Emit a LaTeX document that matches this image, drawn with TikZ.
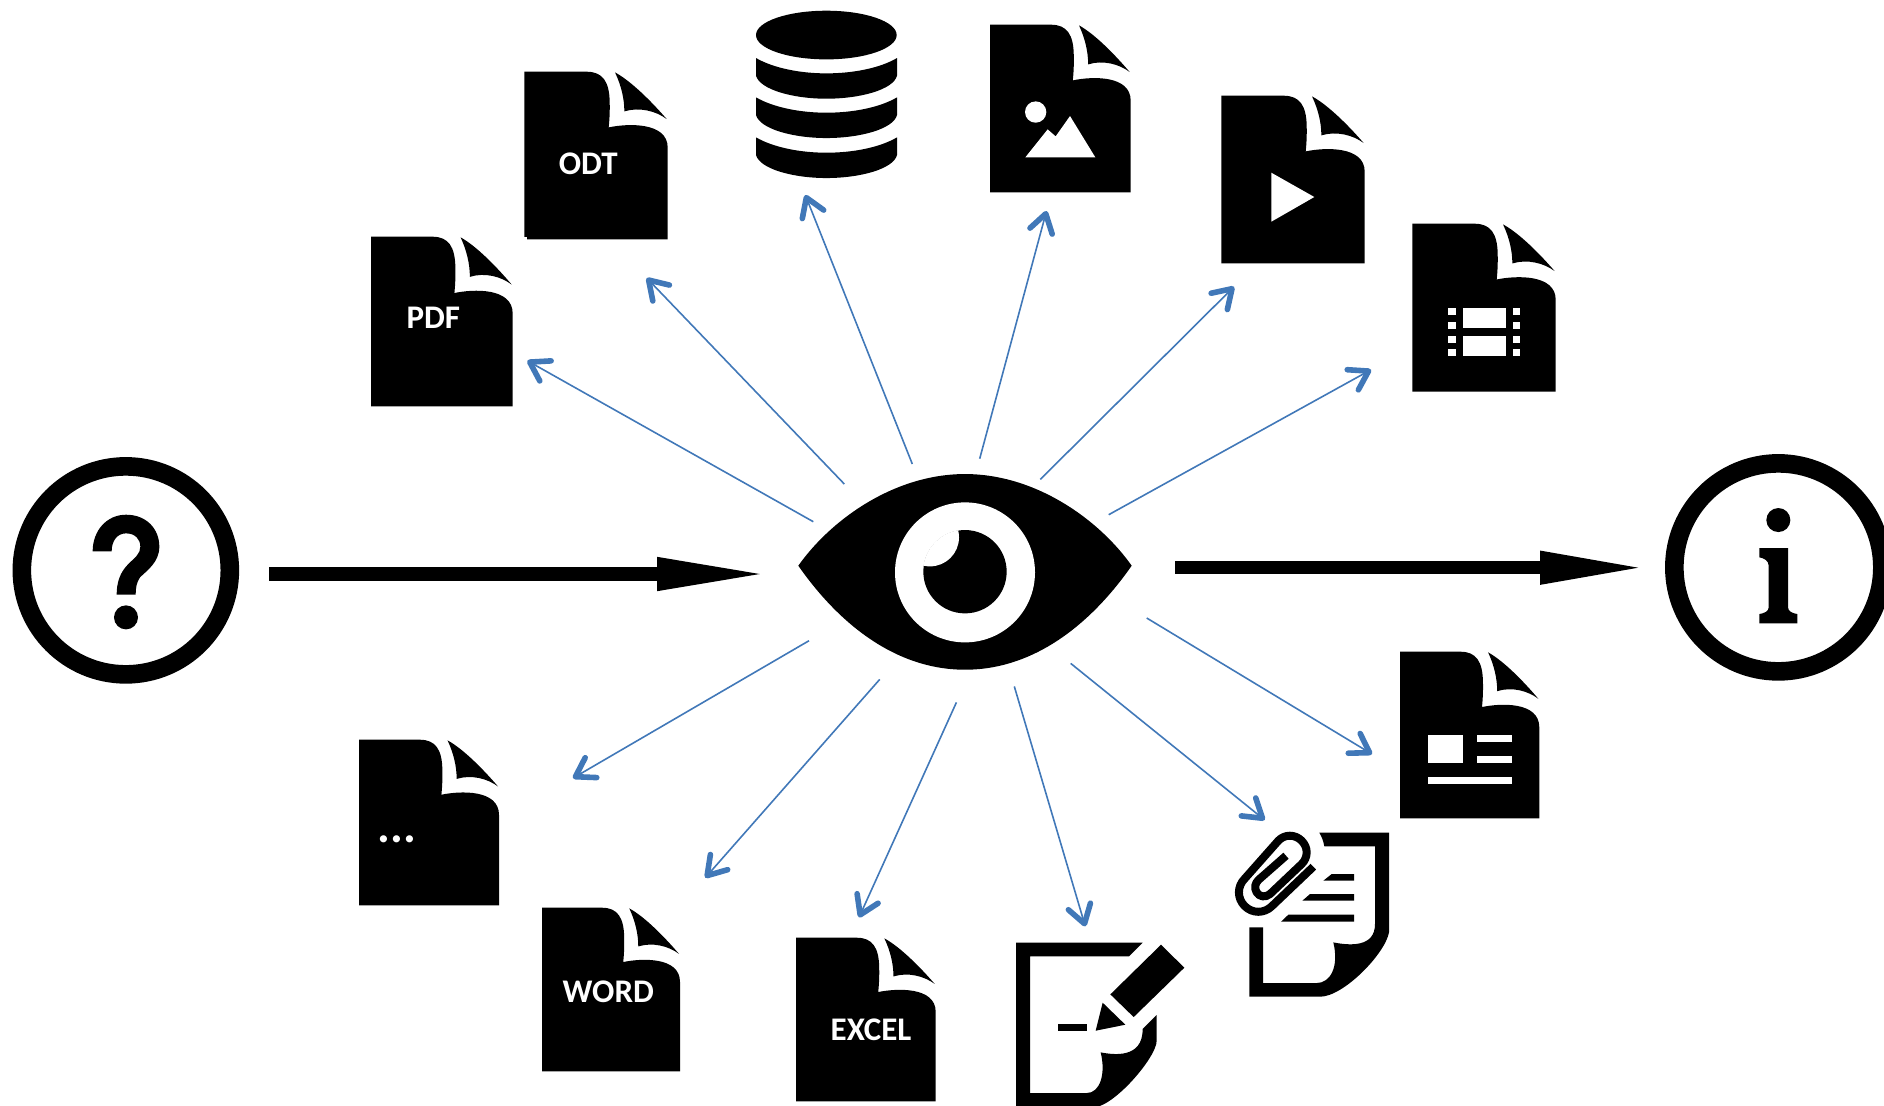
\documentclass[tikz,border=0pt]{standalone}
\usepackage{fontspec}
\setmainfont{Carlito}
\usetikzlibrary{arrows.meta}
\definecolor{linkblue}{HTML}{4178B8}
\tikzset{
  z3/.style 2 args={shift={(#1,#2)},scale=1/3},
  doclabel/.style={text=white,font=\bfseries\fontsize{16.5}{18}\selectfont,inner sep=0pt},
  link/.style={draw=linkblue,line width=0.8pt,-{Straight Barb[length=9pt,width=11.5pt,line width=2.8pt,round]}},
  bigarrow/.style={draw=black,line width=6.7pt,-{Triangle[length=#1,width=15pt]}},
  ring/.style={draw=black,line width=9.3pt,fill=none},
  clipline/.style={line width=4pt,line join=round}
}
\newcommand\docicon[4]{%
  \begin{scope}[shift={(#1,#2)},xscale={(#3-#1)/430},yscale={(#4-#2)/503}]
    \fill[black] (0,0) -- (187,0) .. controls (235,0) and (255,30) .. (256,90)
      .. controls (257,120) and (255,150) .. (253,167)
      .. controls (310,155) and (430,150) .. (430,228) -- (430,503) -- (0,503) -- cycle;
    \fill[black] (272,2) .. controls (290,40) and (300,80) .. (300,119)
      .. controls (345,105) and (395,118) .. (427,142)
      .. controls (380,88) and (320,28) .. (272,2) -- cycle;
  \end{scope}}
\begin{document}
\begin{tikzpicture}[x=0.5pt,y=-0.5pt]
\useasboundingbox (0,-0.7) rectangle (1884,1104.3);

% question circle
\begin{scope}[z3={0}{440}]
  \draw[ring] (377.5,389) circle[radius=312];
  \fill[black] (278,332) .. controls (278,270) and (320,222) .. (378,222)
     .. controls (440,222) and (478,265) .. (478,318)
     .. controls (478,365) and (440,390) .. (420,410)
     .. controls (410,425) and (407,440) .. (407,462)
     -- (350,462) .. controls (350,425) and (360,395) .. (385,370)
     .. controls (405,350) and (421,340) .. (421,318)
     .. controls (421,295) and (405,278) .. (378,278)
     .. controls (352,278) and (335,300) .. (335,332) -- cycle;
  \fill[black] (378,530) circle[radius=36];
\end{scope}
\coordinate (qOut) at (269,573.3);

% info circle
\begin{scope}[z3={1640}{440}]
  \draw[ring] (415,380) circle[radius=312];
  \fill[black] (415,238) circle[radius=36];
  \fill[black] (358,322) -- (444,322) -- (444,500) .. controls (444,512) and (458,518) .. (472,520)
     -- (472,548) -- (358,548) -- (358,520) .. controls (372,518) and (386,512) .. (386,500)
     -- (386,375) .. controls (386,360) and (372,352) .. (358,350) -- cycle;
\end{scope}
\coordinate (iIn) at (1648,567);

% eye
\begin{scope}[z3={760}{440}]
  \fill[black] (115,375) .. controls (210,240) and (400,100) .. (615,100)
     .. controls (830,100) and (1020,240) .. (1115,375)
     .. controls (1000,540) and (830,687) .. (615,687)
     .. controls (400,687) and (230,540) .. (115,375) -- cycle;
  \fill[white] (615,395) circle[radius=210];
  \fill[black] (615,393) circle[radius=125];
  \begin{scope}
    \clip (615,393) circle[radius=126];
    \fill[white] (510,290) circle[radius=87];
  \end{scope}
\end{scope}
\coordinate (eyeOutIn) at (770,573.3);
\coordinate (eyeOut) at (1175,567);

% documents
\docicon{371}{236}{512.7}{405.7}
\node[doclabel] (pdfLabel) at (433.3,317.3) {PDF};
\docicon{524.3}{71}{667.7}{238.7}
\fill[white] (523,236) rectangle (527,240);
\node[doclabel] (odtLabel) at (588.3,163.3) {ODT};
\docicon{990}{24}{1130.7}{191.7}
\docicon{1221.3}{95}{1364.7}{262.7}
\docicon{1412.3}{223}{1555.7}{391}
\docicon{1400}{651}{1539.3}{817.7}
\docicon{359}{739}{499}{904.7}
\node[doclabel,anchor=base,font=\bfseries\fontsize{24}{24}\selectfont] (moreLabel) at (396.7,842) {...};
\docicon{542}{907}{680}{1070.7}
\node[doclabel] (wordLabel) at (608.3,991) {WORD};
\docicon{796}{937}{935.7}{1100.7}
\node[doclabel] (excelLabel) at (871,1029.3) {EXCEL};

% image glyph
\begin{scope}[z3={740}{0}]
  \fill[white] (887,334) circle[radius=32];
  \fill[white] (856,470) -- (923,386) -- (947,407) -- (990,346) -- (1066,470) -- cycle;
\end{scope}
% play glyph
\fill[white] (1271.3,172) -- (1314.3,196.3) -- (1271.3,221) -- cycle;
% film glyph
\begin{scope}[z3={1380}{200}]
  \fill[white] (248,321) rectangle (377,383);
  \fill[white] (248,405) rectangle (377,467);
  \foreach \yy in {321,363,405,446} {
    \fill[white] (205,\yy) rectangle (227,\yy+21);
    \fill[white] (398,\yy) rectangle (420,\yy+21);
  }
\end{scope}
% news glyph
\begin{scope}[z3={1380}{640}]
  \fill[white] (144,283) rectangle (250,367);
  \fill[white] (290,283) rectangle (396,304);
  \fill[white] (290,346) rectangle (396,367);
  \fill[white] (144,408) rectangle (396,429);
\end{scope}

% database
\begin{scope}[z3={740}{0}]
  \fill[black] (259,103) ellipse[x radius=211,y radius=73];
  \foreach \yy in {172,290,410} {
    \fill[black] (48,\yy) .. controls (100,\yy+30) and (180,\yy+46) .. (259,\yy+46)
      .. controls (340,\yy+46) and (420,\yy+30) .. (471,\yy)
      -- (471,\yy+53) .. controls (460,\yy+95) and (360,\yy+122) .. (259,\yy+122)
      .. controls (160,\yy+122) and (60,\yy+95) .. (48,\yy+53) -- cycle;
  }
\end{scope}

% edit + attach documents
\begin{scope}[z3={980}{780}]
  \fill[black] (108,486) -- (488,486) -- (447,527) -- (150,527) -- (150,937) -- (320,937)
    .. controls (360,937) and (378,880) .. (362,815)
    .. controls (400,822) and (488,835) .. (488,745)
    -- (530,703) -- (530,780) .. controls (530,830) and (400,980) .. (340,980)
    -- (108,980) -- cycle;
  \fill[black] (543,492) -- (613,561) -- (461,709) -- (391,641) -- cycle;
  \fill[black] (368,666) -- (436,732) -- (347,750) -- cycle;
  \fill[black] (234,731) rectangle (320,752);

  \fill[black] (1018,156) -- (1227,156) -- (1227,455) .. controls (1215,520) and (1090,648) .. (1020,648)
    -- (808,648) -- (808,440) -- (849,440) -- (849,607) -- (1010,607)
    .. controls (1050,607) and (1078,560) .. (1060,485)
    .. controls (1110,495) and (1185,500) .. (1185,430)
    -- (1185,197) -- (1033,197) .. controls (1030,180) and (1025,168) .. (1018,156) -- cycle;
  \fill[black] (1030,300) -- (1055,280) -- (1122,280) -- (1122,300) -- cycle;
  \fill[black] (967,360) -- (990,340) -- (1122,340) -- (1122,360) -- cycle;
  \fill[black] (903,423) -- (925,402) -- (1122,402) -- (1122,423) -- cycle;
  \draw[clipline,black] (1000,258) -- (876,376)
    .. controls (853,399) and (817,399) .. (794,376)
    .. controls (771,353) and (771,317) .. (794,294)
    -- (895,180)
    .. controls (914,160) and (945,160) .. (965,180)
    .. controls (985,200) and (985,230) .. (965,250)
    -- (870,340)
    .. controls (855,352) and (838,348) .. (830,335)
    .. controls (822,322) and (825,308) .. (835,298)
    -- (918,225);
\end{scope}

% big arrows
\draw[bigarrow=56.4pt] (qOut) -- (eyeOutIn);
\draw[bigarrow=54pt] (eyeOut) -- (iIn);

% blue connectors
\coordinate (a1s) at (813.3,521);    \coordinate (a1e) at (527.3,360);
\coordinate (a2s) at (844.3,483.3);  \coordinate (a2e) at (646.7,277.3);
\coordinate (a3s) at (912.3,463.3);  \coordinate (a3e) at (805.3,194.3);
\coordinate (a4s) at (979.7,458);    \coordinate (a4e) at (1046.5,210.3);
\coordinate (a5s) at (1040.3,478.7); \coordinate (a5e) at (1234,286);
\coordinate (a6s) at (1108.7,514);   \coordinate (a6e) at (1371,369);
\coordinate (a7s) at (1146.7,617.3); \coordinate (a7e) at (1372,753.4);
\coordinate (a8s) at (1070.7,662.7); \coordinate (a8e) at (1264.7,819.3);
\coordinate (a9s) at (1014.3,685.7); \coordinate (a9e) at (1085.3,925.7);
\coordinate (a10s) at (956.4,701.7); \coordinate (a10e) at (859,916.7);
\coordinate (a11s) at (879.7,678.7); \coordinate (a11e) at (705.3,877);
\coordinate (a12s) at (809,640);     \coordinate (a12e) at (573,777.4);
\foreach \n in {1,...,12} { \draw[link] (a\n s) -- (a\n e); }
\end{tikzpicture}
\end{document}
